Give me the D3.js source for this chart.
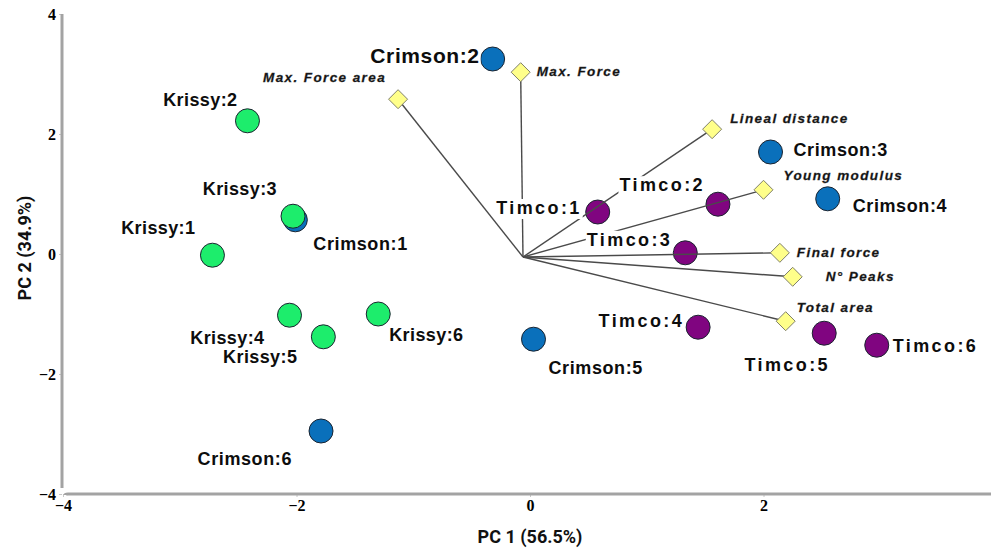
<!DOCTYPE html>
<html>
<head>
<meta charset="utf-8">
<script src="https://cdn.jsdelivr.net/npm/d3@7"></script>
<style>
  body { margin: 0; background: #fff; }
  svg { display: block; }
</style>
</head>
<body>
<svg id="chart" width="991" height="552"></svg>
<script>
// PCA biplot: sample scores (circles) and variable loadings (diamonds)

const sampleNames = ["Crimson:1", "Crimson:2", "Crimson:3", "Crimson:4", "Crimson:5", "Crimson:6",
                     "Timco:1", "Timco:2", "Timco:3", "Timco:4", "Timco:5", "Timco:6",
                     "Krissy:1", "Krissy:2", "Krissy:3", "Krissy:4", "Krissy:5", "Krissy:6"];
const sampleGroups = ["Crimson", "Crimson", "Crimson", "Crimson", "Crimson", "Crimson",
                      "Timco", "Timco", "Timco", "Timco", "Timco", "Timco",
                      "Krissy", "Krissy", "Krissy", "Krissy", "Krissy", "Krissy"];
const samplePC1 = [-2.01, -0.32, 2.06, 2.55, 0.03, -1.79,
                    0.58, 1.61, 1.33, 1.44, 2.52, 2.97,
                   -2.72, -2.42, -2.03, -2.06, -1.77, -1.30];
const samplePC2 = [0.57, 3.25, 1.70, 0.92, -1.42, -2.95,
                   0.70, 0.83, 0.02, -1.22, -1.32, -1.52,
                  -0.02, 2.22, 0.63, -1.02, -1.38, -1.00];

const variableNames = ["Max. Force", "Max. Force area", "Lineal distance", "Young modulus",
                       "Final force", "N° Peaks", "Total area"];
const variablePC1 = [-0.08, -1.13, 1.56, 2.00, 2.14, 2.25, 2.19];
const variablePC2 = [3.03, 2.58, 2.08, 1.07, 0.02, -0.38, -1.12];
const loadingOrigin = [-0.06, -0.05];

const xTicks = [-4, -2, 0, 2, 4];
const yTicks = [-4, -2, 0, 2, 4];
const xTitle = "PC 1 (56.5%)";
const yTitle = "PC 2 (34.9%)";

// ---- presentation ----
const groupColor = { Crimson: "#0a70bb", Timco: "#800580", Krissy: "#1ded6c" };
const groupLetterSpacing = { Crimson: 0.6, Timco: 2.4, Krissy: 0.4 };
const groupOrder = ["Crimson", "Timco", "Krissy"];

// label placement relative to the mark: [dx, dy, anchor, fontSize]
const sampleLabelPlace = {
  "Crimson:1": [18, 24, "start"],  "Crimson:2": [-13, -4, "end", 21],
  "Crimson:3": [23, -2, "start"],  "Crimson:4": [25, 7, "start"],
  "Crimson:5": [15, 29, "start"],  "Crimson:6": [-29, 28, "end"],
  "Timco:1": [-16, -4, "end"],     "Timco:2": [-13, -19, "end"],
  "Timco:3": [-13, -13, "end"],    "Timco:4": [-14, -6, "end"],
  "Timco:5": [-37, 32, "middle"],  "Timco:6": [16, 1, "start"],
  "Krissy:1": [-17, -27, "end"],   "Krissy:2": [-10, -21, "end"],
  "Krissy:3": [-16, -27, "end"],   "Krissy:4": [-25, 23, "end"],
  "Krissy:5": [-26, 20, "end"],    "Krissy:6": [11, 21, "start"]
};
const variableLabelPlace = {
  "Max. Force": [16, -1, "start"],      "Max. Force area": [-12, -22, "end"],
  "Lineal distance": [18, -11, "start"], "Young modulus": [20, -14, "start"],
  "Final force": [17, 0, "start"],       "N° Peaks": [33, 0, "start"],
  "Total area": [11, -14, "start"]
};

const svg = d3.select("#chart");
const x = d3.scaleLinear().domain([-4, 4]).range([63, 997]);
const y = d3.scaleLinear().domain([-4, 4]).range([494, 14]);

// ---- axes ----
const axisColor = "#a3a3a3";
const tickFont = "'Liberation Serif', 'DejaVu Serif', serif";

const gy = svg.append("g").attr("transform", `translate(${x(-4) - 1},0)`)
  .call(d3.axisLeft(y).tickValues(yTicks).tickSize(3).tickPadding(3));
const gx = svg.append("g").attr("transform", `translate(0,${y(-4)})`)
  .call(d3.axisBottom(x).tickValues(xTicks).tickSize(3).tickPadding(3));

[gx, gy].forEach(g => {
  g.select(".domain").remove();
  g.selectAll(".tick line").attr("stroke", "#c8c8c8").attr("stroke-width", 1);
  g.selectAll(".tick text")
    .attr("fill", "#000")
    .attr("font-family", tickFont)
    .attr("font-weight", "bold")
    .attr("font-size", 16);
});

// axis lines with a small rounded corner gap
svg.append("path")
  .attr("d", `M${x(-4) - 1},${y(4)} V${y(-4) - 6}`)
  .attr("stroke", axisColor).attr("stroke-width", 3).attr("fill", "none");
svg.append("path")
  .attr("d", `M${x(-4) + 2},${y(-4) + 1} Q${x(-4) + 2},${y(-4)} ${x(-4) + 5},${y(-4)} H991`)
  .attr("stroke", axisColor).attr("stroke-width", 3).attr("fill", "none");

const titleFont = "'Liberation Sans Narrow', 'Roboto', 'Liberation Sans', sans-serif";
svg.append("text")
  .attr("x", x(0)).attr("y", 536)
  .attr("text-anchor", "middle").attr("dominant-baseline", "central")
  .style("font-family", titleFont).style("font-weight", "bold").style("font-size", "18px")
  .attr("fill", "#111").text(xTitle);
svg.append("text")
  .attr("transform", `translate(24,${y(0) - 6}) rotate(-90)`)
  .attr("text-anchor", "middle").attr("dominant-baseline", "central")
  .style("font-family", titleFont).style("font-weight", "bold").style("font-size", "18px")
  .attr("fill", "#111").text(yTitle);

// ---- sample circles ----
const samples = sampleNames.map((n, i) => ({
  name: n, group: sampleGroups[i], pc1: samplePC1[i], pc2: samplePC2[i]
})).sort((a, b) => groupOrder.indexOf(a.group) - groupOrder.indexOf(b.group));

svg.append("g").selectAll("circle").data(samples).join("circle")
  .attr("cx", d => x(d.pc1)).attr("cy", d => y(d.pc2)).attr("r", 12)
  .attr("fill", d => groupColor[d.group])
  .attr("stroke", "#1b2430").attr("stroke-width", 1);

// ---- loading vectors ----
const variables = variableNames.map((n, i) => ({ name: n, pc1: variablePC1[i], pc2: variablePC2[i] }));

svg.append("g").selectAll("line").data(variables).join("line")
  .attr("x1", x(loadingOrigin[0])).attr("y1", y(loadingOrigin[1]))
  .attr("x2", d => x(d.pc1)).attr("y2", d => y(d.pc2))
  .attr("stroke", "#4a4a4a").attr("stroke-width", 1.4);

// ---- sample labels on white boxes ----
const labelFont = "'Liberation Sans', Arial, sans-serif";
const lg = svg.append("g");
samples.forEach(d => {
  const p = sampleLabelPlace[d.name];
  const g = lg.append("g");
  const t = g.append("text")
    .attr("x", x(d.pc1) + p[0]).attr("y", y(d.pc2) + p[1])
    .attr("text-anchor", p[2]).attr("dominant-baseline", "central")
    .style("font-family", labelFont).style("font-weight", "bold")
    .style("font-size", (p[3] || 18) + "px")
    .style("letter-spacing", groupLetterSpacing[d.group] + "px")
    .attr("fill", "#0d0d0d").text(d.name);
  const b = t.node().getBBox();
  g.insert("rect", "text")
    .attr("x", b.x - 1).attr("y", b.y + 1).attr("width", b.width + 2).attr("height", b.height)
    .attr("fill", "#fff");
});

// ---- variable diamonds and labels ----
const dg = svg.append("g");
dg.selectAll("path").data(variables).join("path")
  .attr("d", d3.symbol(d3.symbolDiamond2, 230))
  .attr("transform", d => `translate(${x(d.pc1)},${y(d.pc2)})`)
  .attr("fill", "#ffff8a").attr("stroke", "#80806a").attr("stroke-width", 1);

dg.selectAll("text").data(variables).join("text")
  .attr("x", d => x(d.pc1) + variableLabelPlace[d.name][0])
  .attr("y", d => y(d.pc2) + variableLabelPlace[d.name][1])
  .attr("text-anchor", d => variableLabelPlace[d.name][2])
  .attr("dominant-baseline", "central")
  .style("font-family", labelFont).style("font-weight", "bold").style("font-style", "italic")
  .style("font-size", "13.5px").style("letter-spacing", "1.4px")
  .attr("fill", "#111").attr("stroke", "#333").attr("stroke-width", 0.3)
  .text(d => d.name);
</script>
</body>
</html>
